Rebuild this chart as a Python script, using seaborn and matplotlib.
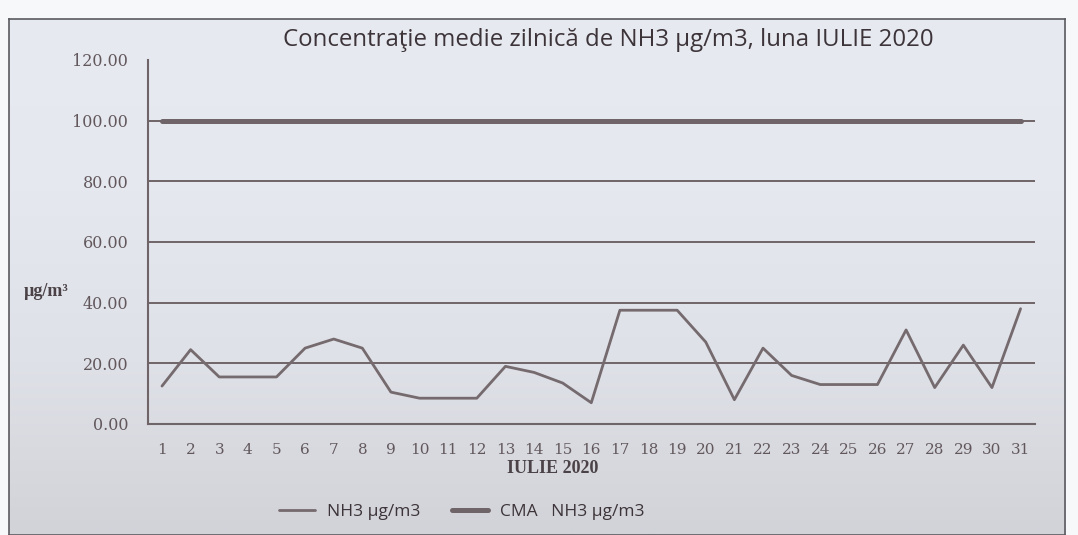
import numpy as np
import pandas as pd
import matplotlib.pyplot as plt
import seaborn as sns
from matplotlib.colors import LinearSegmentedColormap

days = list(range(1, 32))
nh3 = [12.5, 24.5, 15.5, 15.5, 15.5, 25.0, 28.0, 25.0, 10.5, 8.5, 8.5, 8.5, 19.0, 17.0, 13.5, 7.0,
       37.5, 37.5, 37.5, 27.0, 8.0, 25.0, 16.0, 13.0, 13.0, 13.0, 31.0, 12.0, 26.0, 12.0, 38.0]
cma = [100.0] * 31
yticks = [0, 20, 40, 60, 80, 100, 120]

df = pd.DataFrame({"day": days, "NH3 µg/m3": nh3, "CMA   NH3 µg/m3": cma})

sns.set_style("white")
plt.rcParams['font.family'] = ['DejaVu Serif', 'Liberation Serif']

line_col = "#6f6468"
text_col = "#62585c"
fig = plt.figure(figsize=(10.78, 5.35), dpi=100)
fig.patch.set_facecolor("#f7f8fa")

# scanned page look: light frame with a soft vertical shading
bg = fig.add_axes([0.008, 0.0, 0.98, 0.965], zorder=-5)
shade = LinearSegmentedColormap.from_list("shade", ["#d2d3d8", "#dfe1e8", "#e6e8ef", "#e8eaf1"])
bg.imshow(np.linspace(0, 1, 200).reshape(-1, 1), aspect="auto", cmap=shade, origin="lower",
          extent=[0, 1, 0, 1])
bg.set_xticks([])
bg.set_yticks([])
for s in bg.spines.values():
    s.set_color("#5a5a60")
    s.set_linewidth(1.2)

ax = fig.add_axes([0.137, 0.2075, 0.823, 0.6805])
ax.set_facecolor("none")

sns.lineplot(data=df, x="day", y="NH3 µg/m3", ax=ax, color="#756a6e", lw=2, label="NH3 µg/m3")
sns.lineplot(data=df, x="day", y="CMA   NH3 µg/m3", ax=ax, color=line_col, lw=3.6, label="CMA   NH3 µg/m3")

ax.set_xlim(0.5, 31.5)
ax.set_ylim(0, 120)
ax.set_yticks(yticks)
ax.set_yticklabels([f"{v:.2f}" for v in yticks], fontsize=11.5, color=text_col)
for v in yticks[1:-1]:
    ax.axhline(v, color=line_col, lw=1.4, zorder=0)

ax.set_xticks(np.arange(0.5, 32, 1))
ax.set_xticklabels([])
ax.set_xticks(days, minor=True)
ax.set_xticklabels([str(d) for d in days], minor=True, fontsize=11, color=text_col)
ax.tick_params(axis="x", which="major", direction="out", length=5, width=1.3, color=line_col)
ax.tick_params(axis="x", which="minor", length=0, pad=14)
ax.tick_params(axis="y", direction="out", length=5, width=1.3, color=line_col, pad=9)

for s in ["top", "right"]:
    ax.spines[s].set_visible(False)
for s in ["left", "bottom"]:
    ax.spines[s].set_color(line_col)
    ax.spines[s].set_linewidth(1.5)

ax.set_xlabel("IULIE 2020", fontsize=13, fontweight="bold", color="#4a4246",
              fontfamily=["Liberation Serif", "DejaVu Serif"])
ax.xaxis.set_label_coords(0.457, -0.1)
ax.set_ylabel("µg/m³", fontsize=13, fontweight="bold", color="#4a4246", rotation=0,
              fontfamily=["Liberation Serif", "DejaVu Serif"])
ax.yaxis.set_label_coords(-0.114, 0.34)

fig.suptitle("Concentraţie medie zilnică de NH3 µg/m3, luna IULIE 2020", x=0.564, y=0.948,
             fontsize=17.3, color="#3c3438", fontfamily=["Open Sans", "DejaVu Sans"])

leg = ax.legend(loc="center", bbox_to_anchor=(0.354, -0.242), ncol=2, frameon=False,
                prop={"family": ["Open Sans", "DejaVu Sans"], "size": 12.5},
                handlelength=2.1, columnspacing=1.8, handletextpad=0.7)
for t in leg.get_texts():
    t.set_color("#3c3438")

fig.savefig("out.png", dpi=100, facecolor=fig.get_facecolor())
